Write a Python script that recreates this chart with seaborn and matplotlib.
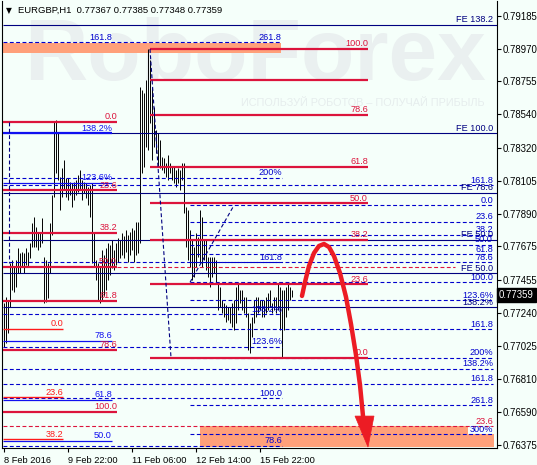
import matplotlib
matplotlib.use("Agg")
import numpy as np
import pandas as pd
import matplotlib.pyplot as plt
from matplotlib.patches import Polygon
import seaborn as sns

# ─── Price data (EURGBP H1, one entry per bar) ────────────────────────────────
bar_high = [0.77305, 0.77344, 0.77324, 0.77567, 0.77586, 0.77540, 0.77586, 0.77665, 0.77632, 0.77639,
            0.77632, 0.77665, 0.77639, 0.77697, 0.77828, 0.77868, 0.77802, 0.77769, 0.77769, 0.77861,
            0.77606, 0.77586, 0.77567, 0.77828, 0.78012, 0.78489, 0.78503, 0.78424, 0.78129, 0.78188,
            0.78241, 0.78123, 0.78123, 0.78097, 0.78090, 0.78097, 0.78110, 0.78143, 0.78175, 0.78110,
            0.78097, 0.78090, 0.78064, 0.78077, 0.78090, 0.77763, 0.77586, 0.77567, 0.77540, 0.77652,
            0.77619, 0.77665, 0.77697, 0.77684, 0.77717, 0.77652, 0.77697, 0.77730, 0.77717, 0.77763,
            0.77743, 0.77783, 0.77750, 0.77769, 0.77796, 0.77783, 0.77835, 0.77835, 0.78719, 0.78699,
            0.78679, 0.78764, 0.78967, 0.78895, 0.78719, 0.78588, 0.78437, 0.78417, 0.78372, 0.78260,
            0.78254, 0.78221, 0.78273, 0.78221, 0.78195, 0.78195, 0.78175, 0.78188, 0.78175, 0.78221,
            0.78221, 0.77933, 0.77913, 0.77783, 0.77717, 0.77671, 0.77763, 0.77737, 0.77913, 0.77868,
            0.77717, 0.77717, 0.77606, 0.77606, 0.77606, 0.77606, 0.77586, 0.77436, 0.77409, 0.77324,
            0.77305, 0.77292, 0.77279, 0.77279, 0.77305, 0.77324, 0.77409, 0.77436, 0.77390, 0.77390,
            0.77344, 0.77344, 0.77239, 0.77174, 0.77213, 0.77324, 0.77344, 0.77344, 0.77324, 0.77324,
            0.77324, 0.77344, 0.77370, 0.77390, 0.77305, 0.77344, 0.77344, 0.77436, 0.77409, 0.77390,
            0.77390, 0.77409, 0.77436, 0.77409, 0.77390]
bar_low = [0.77017, 0.77043, 0.77108, 0.77279, 0.77390, 0.77377, 0.77409, 0.77501, 0.77501, 0.77540,
           0.77501, 0.77553, 0.77540, 0.77599, 0.77671, 0.77671, 0.77671, 0.77652, 0.77671, 0.77697,
           0.77305, 0.77311, 0.77337, 0.77501, 0.77750, 0.77999, 0.78156, 0.78110, 0.77913, 0.77999,
           0.78044, 0.77999, 0.77979, 0.78012, 0.77933, 0.77979, 0.78012, 0.78031, 0.78044, 0.77979,
           0.78025, 0.77992, 0.77946, 0.77868, 0.77567, 0.77540, 0.77455, 0.77324, 0.77305, 0.77324,
           0.77351, 0.77390, 0.77455, 0.77488, 0.77534, 0.77521, 0.77553, 0.77573, 0.77599, 0.77619,
           0.77599, 0.77639, 0.77573, 0.77619, 0.77652, 0.77573, 0.77619, 0.77632, 0.77697, 0.78156,
           0.78195, 0.78326, 0.78306, 0.78483, 0.78241, 0.78326, 0.78287, 0.78195, 0.78188, 0.78175,
           0.78156, 0.78129, 0.78110, 0.78156, 0.78110, 0.78090, 0.78064, 0.78090, 0.78044, 0.78110,
           0.77894, 0.77671, 0.77586, 0.77540, 0.77455, 0.77475, 0.77540, 0.77606, 0.77567, 0.77540,
           0.77586, 0.77521, 0.77475, 0.77409, 0.77475, 0.77501, 0.77436, 0.77259, 0.77279, 0.77239,
           0.77213, 0.77180, 0.77193, 0.77174, 0.77148, 0.77128, 0.77174, 0.77259, 0.77305, 0.77259,
           0.77239, 0.77213, 0.76997, 0.76977, 0.77082, 0.77174, 0.77213, 0.77239, 0.77259, 0.77213,
           0.77213, 0.77239, 0.77259, 0.77279, 0.77239, 0.77259, 0.77239, 0.77259, 0.77128, 0.76951,
           0.77128, 0.77213, 0.77259, 0.77324, 0.77344]

tick_bars = [0, 32, 64, 96, 128]
tick_labels = ["8 Feb 2016", "9 Feb 22:00", "11 Feb 06:00", "12 Feb 14:00", "15 Feb 22:00"]
price_ticks = [0.79185, 0.78970, 0.78755, 0.78540, 0.78320, 0.78105, 0.77890,
               0.77675, 0.77455, 0.77240, 0.77025, 0.76810, 0.76590, 0.76375]
last_price = 0.77359
title = "EURGBP,H1  0.77367 0.77385 0.77348 0.77359"

# ─── Fibonacci objects ────────────────────────────────────────────────────────
r1_labels = ["100.0", "", "78.6", "61.8", "50.0", "38.2", "23.6", "0.0"]
r1_prices = [0.78967, 0.78764, 0.78535, 0.78195, 0.77957, 0.77717, 0.77426, 0.76947]

r2_labels = ["0.0", "23.6", "38.2", "50.0", "61.8", "78.6", "100.0"]
r2_prices = [0.78489, 0.78042, 0.77766, 0.77542, 0.77318, 0.77000, 0.76593]

r3_labels = ["0.0", "23.6", "38.2"]
r3_prices = [0.77135, 0.76687, 0.76412]

bl_labels = ["138.2%", "123.6%", "78.6", "61.8", "50.0"]
bl_prices = [0.78414, 0.78090, 0.77056, 0.76670, 0.76403]

mid_labels = ["200%", "161.8", "138.2%", "123.6%", "100.0", "78.6"]
mid_prices = [0.78123, 0.77571, 0.77231, 0.77019, 0.76681, 0.76371]

a_labels = ["0.0", "23.6", "38.2", "50.0", "61.8", "78.6", "100.0",
            "123.6%", "161.8", "200%", "261.8", "300%"]
a_prices = [0.77944, 0.77837, 0.77752, 0.77684, 0.77625, 0.77571, 0.77440,
            0.77324, 0.77133, 0.76947, 0.76637, 0.76445]

fe_labels = ["FE 138.2", "FE 100.0", "FE 78.6", "FE 50.0", "FE 50.0", "138.2%"]
fe_prices = [0.79124, 0.78414, 0.78025, 0.77717, 0.77499, 0.77277]

wide_labels = ["161.8", "138.2%", "161.8"]
wide_prices = [0.78075, 0.76873, 0.76775]

top_labels = ["261.8"]
top_prices = [0.79011]

red_dash_labels = ["", "23.6"]
red_dash_prices = [0.77538, 0.76498]

zone_top = [0.78941, 0.79006]
zone_bottom = [0.76364, 0.76445, 0.76498]

# fib trend lines: (bar, price) pairs
trend_bars = [[2.75, 2.75], [73.25, 83.75], [93.25, 115.25]]
trend_prices = [[0.78489, 0.77567], [0.78967, 0.76947], [0.77440, 0.77944]]

# forecast path drawn by the analyst
forecast_bar = [149.25, 150.75, 152.75, 155.25, 157.75, 160.25, 162.75,
                165.25, 168.25, 171.25, 173.75, 176.25, 178.25, 179.75]
forecast_price = [0.77351, 0.77442, 0.77547, 0.77632, 0.77678, 0.77691, 0.77671,
                  0.77612, 0.77501, 0.77344, 0.77167, 0.76964, 0.76768, 0.76565]
head_bar = [175.75, 185.25, 182.25]
head_price = [0.76565, 0.76565, 0.76362]

# ─── Style ────────────────────────────────────────────────────────────────────
BG = "#f5fffa"
CRIMSON = "#dc143c"
RED = "#ff1a1a"
BLUE = "#0000cd"
NAVY = "#000080"
SALMON = "#ffa07a"
ARROW = "#ec1c24"
DASH = (0, (3.5, 2.2))

sns.set_theme(style="white", rc={"axes.facecolor": BG, "figure.facecolor": BG})
plt.rcParams["font.family"] = ["Liberation Sans", "DejaVu Sans"]

fig = plt.figure(figsize=(5.37, 4.65), dpi=100)
ax = fig.add_axes([2 / 537, 17 / 465, 495 / 537, 447 / 465])
ax.set_xlim(-0.75, 246.75)
ax.set_ylim(0.76356, 0.79281)

# watermark
ax.text(0.511, 0.873, "RoboForex", transform=ax.transAxes, ha="center", va="center",
        fontsize=63, fontweight="bold", color="#eaf0f0", zorder=0)
ax.text(0.729, 0.772, "ИСПОЛЬЗУЙ РОБОТОВ – ПОЛУЧАЙ ПРИБЫЛЬ", transform=ax.transAxes,
        ha="center", va="center", fontsize=7.8, color="#e6eded", zorder=0)

# zones
ax.fill_between([-0.25, 138.75], zone_top[0], zone_top[1], color=SALMON, lw=0, zorder=1)
ax.fill_between([98.25, 232.25], zone_bottom[1], zone_bottom[2], color=SALMON, lw=0, zorder=1)
ax.fill_between([98.25, 245.25], zone_bottom[0], zone_bottom[1], color=SALMON, lw=0, zorder=1)

# bars
df = pd.DataFrame({"bar": np.arange(len(bar_high)), "high": bar_high, "low": bar_low})
ax.vlines(df["bar"], df["low"], df["high"], color="black", lw=0.7, zorder=2)


def levels(prices, labels, x0, x1, color, ls="-", lw=0.8, tcolor=None, lx=None):
    for p, lab in zip(prices, labels):
        ax.hlines(p, x0, x1, colors=color, linestyles=ls, lw=lw, zorder=3)
        if lab:
            ax.annotate(lab, (x1 if lx is None else lx, p), xytext=(0, 0.4),
                        textcoords="offset points", ha="right", va="bottom",
                        color=tcolor or color, fontsize=6.6, zorder=5)


levels(fe_prices, fe_labels, -0.25, 246.75, NAVY, lw=0.8, lx=244.75)
levels(top_prices, top_labels, -0.25, 138.75, BLUE, ls=DASH)
levels(wide_prices, wide_labels, -0.25, 244.75, BLUE, ls=DASH)
levels(a_prices, a_labels, 93.25, 244.75, BLUE, ls=DASH)
levels(mid_prices, mid_labels, -0.25, 139.25, BLUE, ls=DASH)
levels(bl_prices[:1], bl_labels[:1], -0.25, 54.25, "#1010f0", lw=1.6)
levels(bl_prices[1:], bl_labels[1:], -0.25, 54.25, "#1010f0", lw=0.9)
levels(red_dash_prices[:1], red_dash_labels[:1], 56.75, 225.75, CRIMSON, ls=DASH)
levels(red_dash_prices[1:], red_dash_labels[1:], -0.25, 244.75, CRIMSON, ls=DASH)
levels(r1_prices, r1_labels, 73.25, 182.25, CRIMSON, lw=1.6)
levels(r2_prices, r2_labels, -0.25, 56.75, CRIMSON, lw=1.6)
levels(r3_prices, r3_labels, -0.25, 29.75, RED, lw=1.0)

ax.annotate("161.8", (54.25, top_prices[0]), xytext=(0, 0.4), textcoords="offset points",
            ha="right", va="bottom", color=BLUE, fontsize=6.6, zorder=5,
            bbox=dict(boxstyle="square,pad=0.05", fc=BG, ec="none"))

for tb, tp in zip(trend_bars, trend_prices):
    ax.plot(tb, tp, color=NAVY, ls=DASH, lw=0.8, zorder=3)

# forecast arrow
sns.lineplot(x=forecast_bar, y=forecast_price, sort=False, ax=ax, color=ARROW,
             lw=3.2, zorder=6, solid_capstyle="round")
ax.add_patch(Polygon(list(zip(head_bar, head_price)), closed=True, fc=ARROW, ec=ARROW,
                     lw=0.5, zorder=6))

# axes
for s in ["left", "right", "bottom"]:
    ax.spines[s].set_visible(True)
    ax.spines[s].set_color("black")
    ax.spines[s].set_linewidth(0.8)
ax.spines["top"].set_visible(False)

ax.set_xticks(tick_bars)
ax.set_xticklabels(tick_labels, ha="left")
ax.tick_params(axis="x", bottom=True, length=3, width=0.8, pad=2.5, labelsize=6.7,
               colors="black")
ax.yaxis.tick_right()
ax.set_yticks(price_ticks)
ax.set_yticklabels([f"{p:.5f}" for p in price_ticks])
ax.tick_params(axis="y", right=True, length=3, width=0.8, pad=1, labelsize=6.9,
               colors="black")
ax.grid(False)

ax.annotate(f"{last_price:.5f}", (1.0, last_price), xycoords=("axes fraction", "data"),
            xytext=(1.5, 0), textcoords="offset points", ha="left", va="center",
            color="white", fontsize=6.9, zorder=10, annotation_clip=False,
            bbox=dict(boxstyle="square,pad=0.2", fc="black", ec="black"))

# title
fig.text(6 / 537, 1 - 10.5 / 465, "▼", fontsize=5.5, va="center", ha="left",
         family="DejaVu Sans", color="black")
fig.text(18 / 537, 1 - 10.5 / 465, title, fontsize=6.8, va="center", ha="left",
         color="black")

fig.savefig("out.png", dpi=100, facecolor=BG)
